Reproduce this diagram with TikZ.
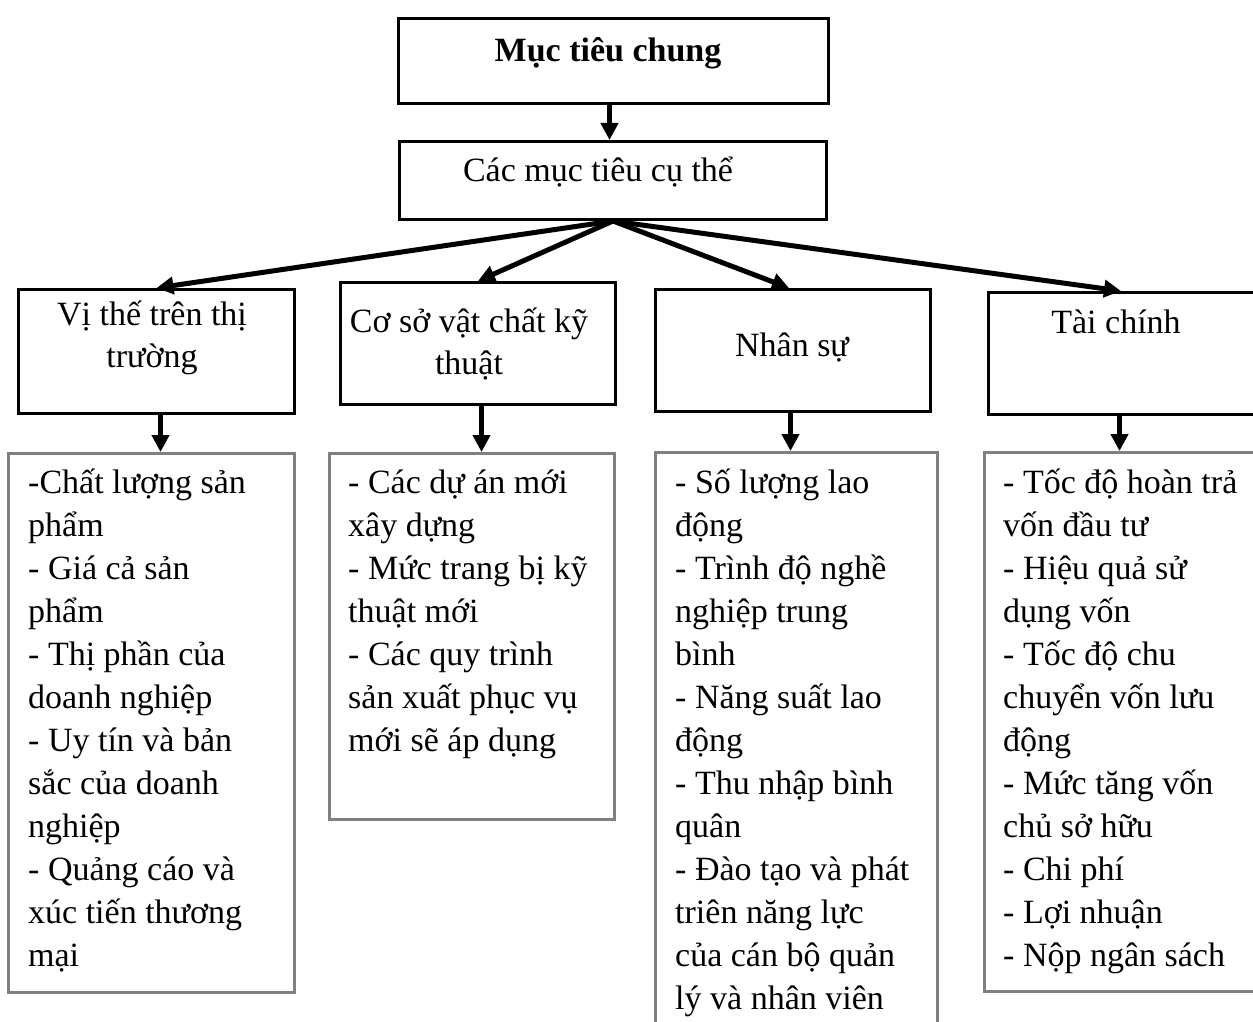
\documentclass[tikz,border=0pt]{standalone}
\usepackage{fontspec}
\setmainfont{Liberation Serif}
\usetikzlibrary{arrows.meta}

\begin{document}
\begin{tikzpicture}[x=1pt,y=-1pt,
  topbox/.style={draw=black, line width=3pt, inner sep=0pt, anchor=north west},
  lowbox/.style={draw=black!50, line width=2.5pt, inner sep=0pt, anchor=north west},
  lbl/.style={inner sep=0pt, font={\fontsize{34}{42}\selectfont}},
  listtext/.style={inner sep=0pt, align=left, anchor=north west,
    font={\fontsize{34}{43}\selectfont}},
  arr/.style={line width=5pt, -{Triangle[length=17pt,width=17pt]}}
]
\useasboundingbox (0,0) rectangle (1253,1022);

% upper level boxes
\node[topbox, minimum width=430pt, minimum height=85pt] (c1) at (397,17) {};
\node[topbox, minimum width=427pt, minimum height=78pt] (c2) at (398,140) {};

% category boxes
\node[topbox, minimum width=276pt, minimum height=124pt] (b1) at (17,288) {};
\node[topbox, minimum width=275pt, minimum height=122pt] (b2) at (339,281) {};
\node[topbox, minimum width=275pt, minimum height=122pt] (b3) at (654,288) {};
\node[topbox, minimum width=271pt, minimum height=122pt] (b4) at (987,291) {};

% detail boxes
\node[lowbox, minimum width=286pt, minimum height=539pt] (l1) at (7,452) {};
\node[lowbox, minimum width=285pt, minimum height=366pt] (l2) at (328,452) {};
\node[lowbox, minimum width=282pt, minimum height=580pt] (l3) at (654,451) {};
\node[lowbox, minimum width=280pt, minimum height=539pt] (l4) at (983,451) {};

% titles
\node[lbl, anchor=base, font={\fontsize{34}{42}\selectfont\bfseries}] (t0) at (608,62) {Mục tiêu chung};
\node[lbl, anchor=base] (t1) at (598,182) {Các mục tiêu cụ thể};
\node[lbl, align=center, anchor=north] (tb1) at (152,289) {\rule{0pt}{36pt}Vị thế trên thị\\trường};
\node[lbl, align=center, anchor=north] (tb2) at (469,296) {\rule{0pt}{36pt}Cơ sở vật chất kỹ\\thuật};
\node[lbl, anchor=base] (tb3) at (792,356) {Nhân sự};
\node[lbl, anchor=base] (tb4) at (1116,333) {Tài chính};

% detail lists
\node[listtext] (x1) at (28,457) {\rule{0pt}{36pt}-Chất lượng sản\\phẩm\\- Giá cả sản\\phẩm\\- Thị phần của\\doanh nghiệp\\- Uy tín và bản\\sắc của doanh\\nghiệp\\- Quảng cáo và\\xúc tiến thương\\mại};
\node[listtext] (x2) at (348,457) {\rule{0pt}{36pt}- Các dự án mới\\xây dựng\\- Mức trang bị kỹ\\thuật mới\\- Các quy trình\\sản xuất phục vụ\\mới sẽ áp dụng};
\node[listtext] (x3) at (675,457) {\rule{0pt}{36pt}- Số lượng lao\\động\\- Trình độ nghề\\nghiệp trung\\bình\\- Năng suất lao\\động\\- Thu nhập bình\\quân\\- Đào tạo và phát\\triên năng lực\\của cán bộ quản\\lý và nhân viên};
\node[listtext] (x4) at (1003,457) {\rule{0pt}{36pt}- Tốc độ hoàn trả\\vốn đầu tư\\- Hiệu quả sử\\dụng vốn\\- Tốc độ chu\\chuyển vốn lưu\\động\\- Mức tăng vốn\\chủ sở hữu\\- Chi phí\\- Lợi nhuận\\- Nộp ngân sách};

% connectors
\draw[arr] ([xshift=-4pt]c1.south) -- ([xshift=-4pt]c1.south |- c2.north);
\draw[arr] (c2.south) -- (b1.north);
\draw[arr] (c2.south) -- (b2.north);
\draw[arr] (c2.south) -- ([xshift=-4pt]b3.north);
\draw[arr] (c2.south) -- ([xshift=-3pt]b4.north);

\draw[arr] ([xshift=4pt]b1.south) -- ([xshift=4pt]b1.south |- l1.north);
\draw[arr] ([xshift=3.5pt]b2.south) -- ([xshift=3.5pt]b2.south |- l2.north);
\draw[arr] ([xshift=-2.5pt]b3.south) -- ([xshift=-2.5pt]b3.south |- l3.north);
\draw[arr] ([xshift=-4.5pt]b4.south) -- ([xshift=-4.5pt]b4.south |- l4.north);
\end{tikzpicture}
\end{document}
